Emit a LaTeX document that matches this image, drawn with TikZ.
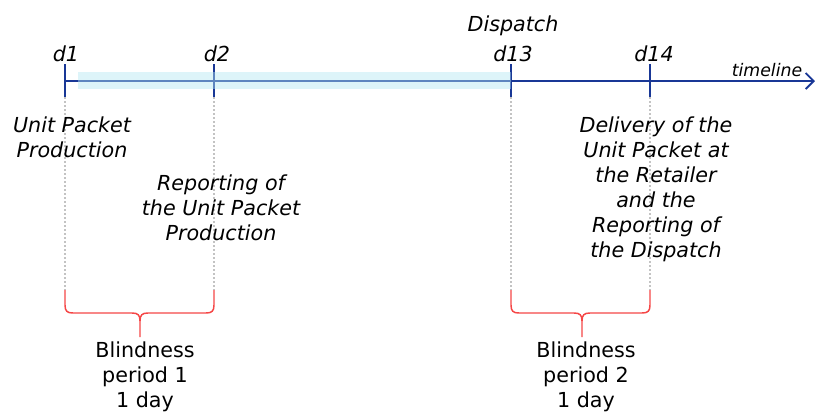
\documentclass[tikz,border=0pt]{standalone}
\usepackage{fontspec}
\setmainfont{DejaVu Sans}
\usetikzlibrary{arrows.meta}
\definecolor{axisblue}{RGB}{25,55,150}
\definecolor{bandcyan}{RGB}{179,230,242}
\definecolor{bracered}{RGB}{245,70,70}
\definecolor{guidegray}{RGB}{195,195,195}
\tikzset{
  axis/.style={draw=axisblue, line width=1.6pt},
  tick/.style={draw=axisblue, line width=1.7pt},
  guide/.style={draw=guidegray, line width=1.2pt, dash pattern=on 1.2pt off 1.8pt},
  daylabel/.style={font=\fontsize{15.5}{18.75}\selectfont\itshape, anchor=base, inner sep=0pt},
  eventlabel/.style={font=\fontsize{15.5}{18.75}\selectfont\itshape, anchor=base, align=center, inner sep=0pt},
  blindlabel/.style={font=\fontsize{15.5}{18.75}\selectfont, anchor=base, align=center, inner sep=0pt},
  bracepath/.style={draw=bracered, line width=1.1pt},
}
\newcommand\periodbrace[3]{%
  \draw[bracepath] (#1,290) -- (#1,305) .. controls (#1,311) and (#1+2,313) .. (#1+8,313)
    -- (#3-8,313) .. controls (#3-2,313) and (#3,315) .. (#3,321) -- (#3,337);
  \draw[bracepath] (#2,290) -- (#2,305) .. controls (#2,311) and (#2-2,313) .. (#2-8,313)
    -- (#3+8,313) .. controls (#3+2,313) and (#3,315) .. (#3,321);
}
\begin{document}
\begin{tikzpicture}[x=0.75pt, y=-0.75pt]
\useasboundingbox (0,0) rectangle (815,412);

% day marks on the time axis
\coordinate (t1) at (65,81);
\coordinate (t2) at (214,81);
\coordinate (t13) at (511,81);
\coordinate (t14) at (650,81);
\coordinate (tend) at (815,81);
\foreach \t in {t1,t2,t13,t14} {
  \coordinate (\t up) at ([yshift=12.75pt]\t);
  \coordinate (\t lo) at ([yshift=-12pt]\t);
  \coordinate (\t guide) at ([yshift=-157pt]\t);
}

% dotted guides down to the braces
\foreach \t in {t1,t2,t13,t14}
  \draw[guide] (\t lo) -- (\t guide);

% axis and ticks
\draw[axis, -{Straight Barb[length=6pt, width=12pt, line width=1.4pt]}] (t1) -- (tend);
\foreach \t in {t1,t2,t13,t14}
  \draw[tick] (\t up) -- (\t lo);

% shaded span d1..d13
\fill[bandcyan, fill opacity=0.45] (78,72) rectangle (511,89);

% day labels
\node[daylabel] (d1) at (66,61) {d1};
\node[daylabel] (d2) at (217,61) {d2};
\node[daylabel] (d13) at (513,61) {d13};
\node[daylabel] (d14) at (654,61) {d14};
\node[daylabel] (dispatch) at (513,31) {Dispatch};
\node[daylabel, font=\fontsize{13}{15}\selectfont\itshape] (timeline) at (767,76) {timeline};

% event descriptions (anchored at the baseline of the last line)
\node[eventlabel] (prod) at (72,157) {Unit Packet\\Production};
\node[eventlabel] (report) at (221,240) {Reporting of\\the Unit Packet\\Production};
\node[eventlabel] (delivery) at (656,257) {Delivery of the\\Unit Packet at\\the Retailer\\and the\\Reporting of\\the Dispatch};

% blindness periods
\periodbrace{65}{214}{140}
\periodbrace{511}{650}{582}
\node[blindlabel] (blind1) at (145,407) {Blindness\\period 1\\1 day};
\node[blindlabel] (blind2) at (586,407) {Blindness\\period 2\\1 day};
\end{tikzpicture}
\end{document}
